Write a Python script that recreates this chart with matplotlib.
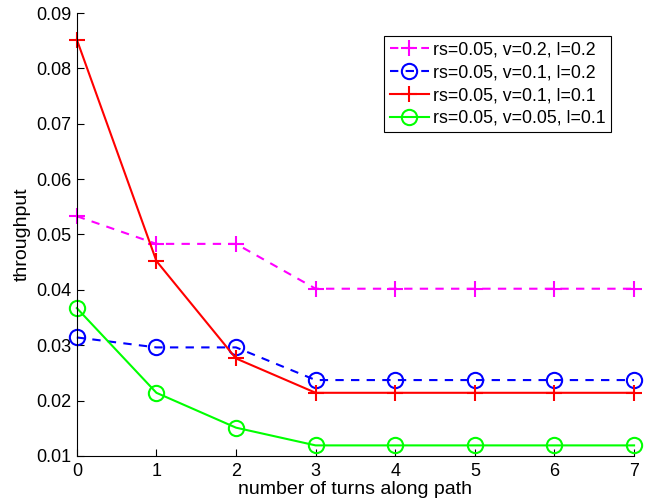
import matplotlib
matplotlib.use('Agg')
import matplotlib.pyplot as plt

plt.rcParams['font.family'] = ['Liberation Sans', 'DejaVu Sans']

turns = [0, 1, 2, 3, 4, 5, 6, 7]

# throughput values
thr_v02_l02 = [0.0533, 0.0483, 0.0483, 0.0402, 0.0402, 0.0402, 0.0402, 0.0402]
thr_v01_l02 = [0.0314, 0.0296, 0.0296, 0.0237, 0.0237, 0.0237, 0.0237, 0.0237]
thr_v01_l01 = [0.0852, 0.0452, 0.0276, 0.0214, 0.0214, 0.0214, 0.0214, 0.0214]
thr_v005_l01 = [0.0367, 0.0214, 0.0151, 0.0119, 0.0119, 0.0119, 0.0119, 0.0119]

labels = ['rs=0.05, v=0.2, l=0.2', 'rs=0.05, v=0.1, l=0.2',
          'rs=0.05, v=0.1, l=0.1', 'rs=0.05, v=0.05, l=0.1']

fig = plt.figure(figsize=(6.51, 5.01), dpi=100)
ax = fig.add_axes([0.118, 0.09, 0.856, 0.884])

ax.plot(turns, thr_v02_l02, color='#ff00ff', ls=(0, (4, 3.5)), lw=1.5,
        marker='+', ms=11, mew=1.5, label=labels[0], clip_on=False)
ax.plot(turns, thr_v01_l02, color='#0000ff', ls=(0, (4, 3.5)), lw=1.5,
        marker='o', ms=11, mew=1.5, mfc='none', label=labels[1], clip_on=False)
ax.plot(turns, thr_v01_l01, color='#ff0000', ls='-', lw=1.5,
        marker='+', ms=11, mew=1.5, label=labels[2], clip_on=False)
ax.plot(turns, thr_v005_l01, color='#00ff00', ls='-', lw=1.5,
        marker='o', ms=11, mew=1.5, mfc='none', label=labels[3], clip_on=False)

ax.set_xlim(0, 7)
ax.set_ylim(0.01, 0.09)
ax.set_xticks(turns)
ax.set_yticks([0.01, 0.02, 0.03, 0.04, 0.05, 0.06, 0.07, 0.08, 0.09])
ax.set_yticklabels(['0.01', '0.02', '0.03', '0.04', '0.05', '0.06', '0.07', '0.08', '0.09'])
ax.tick_params(direction='in', labelsize=13, length=5)
ax.tick_params(axis='y', pad=4)
ax.tick_params(axis='x', pad=5)
ax.spines['top'].set_visible(False)
ax.spines['right'].set_visible(False)
for s in ax.spines.values():
    s.set_linewidth(0.8)

ax.set_xlabel('number of turns along path', fontsize=14, labelpad=1)
ax.set_ylabel('throughput', fontsize=14, labelpad=4)

leg = ax.legend(loc='upper right', bbox_to_anchor=(0.959, 0.948), fontsize=12.8,
                fancybox=False, edgecolor='black', framealpha=1,
                handlelength=2.2, handletextpad=0.25, borderpad=0.3,
                labelspacing=0.33, borderaxespad=0)
leg.get_frame().set_linewidth(0.8)

fig.savefig('out.png', dpi=100)
